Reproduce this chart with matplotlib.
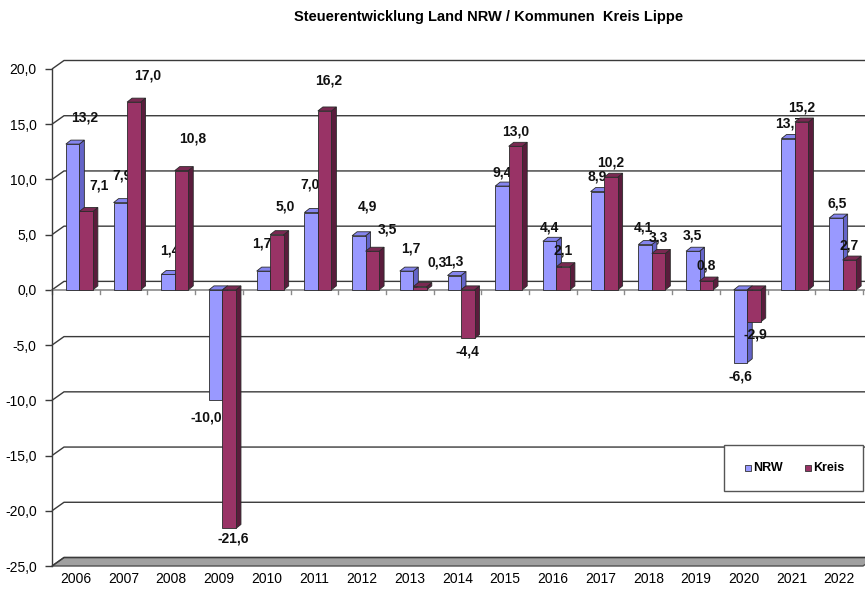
import matplotlib
matplotlib.use("Agg")
import matplotlib.pyplot as plt
from matplotlib.patches import Polygon, Rectangle
import numpy as np

# ---------------- data ----------------
years = ["2006", "2007", "2008", "2009", "2010", "2011", "2012", "2013", "2014",
         "2015", "2016", "2017", "2018", "2019", "2020", "2021", "2022"]
nrw = [13.2, 7.9, 1.4, -10.0, 1.7, 7.0, 4.9, 1.7, 1.3, 9.4, 4.4, 8.9, 4.1, 3.5, -6.6, 13.7, 6.5]
kreis = [7.1, 17.0, 10.8, -21.6, 5.0, 16.2, 3.5, 0.3, -4.4, 13.0, 2.1, 10.2, 3.3, 0.8, -2.9, 15.2, 2.7]
series_names = ["NRW", "Kreis"]
y_ticks = [-25, -20, -15, -10, -5, 0, 5, 10, 15, 20]
title = "Steuerentwicklung Land NRW / Kommunen  Kreis Lippe"

# ---------------- style ----------------
# label offsets in pixels (dx, dy) relative to bar end (top for +, bottom for -)
nrw_lab_off = [(12, 27), (2, 27), (2, 24), (-9, -17), (-2, 28), (-1, 28), (9, 29), (4, 23), (0, 14),
               (0, 14), (0, 14), (0, 15), (-2, 17), (0, 16), (0, -14), (0, 15), (1, 15)]
kreis_lab_off = [(13, 26), (14, 27), (11, 32), (4, -10), (8, 28), (4, 30), (15, 22), (17, 24), (0, -13),
                 (0, 15), (0, 16), (0, 15), (0, 16), (0, 16), (1, -13), (0, 15), (0, 15)]

front_cols = ["#9999FF", "#993366"]
top_cols = ["#8585EE", "#7A2952"]
side_cols = ["#6464C8", "#5A1C3C"]
edge_col = "#2a2a2a"

W, H, DPI = 865, 589, 100
plt.rcParams["font.family"] = ["Liberation Sans", "DejaVu Sans"]

fig = plt.figure(figsize=(W / DPI, H / DPI), dpi=DPI)
ax_left_px, ax_right_px, ax_top_px, ax_bot_px = 52, 863, 69, 566
ax = fig.add_axes([ax_left_px / W, (H - ax_bot_px) / H,
                   (ax_right_px - ax_left_px) / W, (ax_bot_px - ax_top_px) / H])
xmin, xmax = -0.5, len(years) - 0.5
ymin, ymax = -25, 20
ax.set_xlim(xmin, xmax)
ax.set_ylim(ymin, ymax)

ppx = (ax_right_px - ax_left_px) / (xmax - xmin)   # pixels per x unit
ppy = (ax_bot_px - ax_top_px) / (ymax - ymin)      # pixels per y unit

def px_x(p):
    return p / ppx

def px_y(p):
    return p / ppy

# back wall offset and bar depth offset (in data units)
wdx, wdy = px_x(12), px_y(8.5)
bdx, bdy = px_x(5), px_y(4)

line_col = "#3a3a3a"

# floor at minimum
floor = Polygon([(xmin, ymin), (xmin + wdx, ymin + wdy), (xmax + wdx, ymin + wdy), (xmax, ymin)],
                closed=True, facecolor="#a0a0a0", edgecolor="#505050", lw=1.0, zorder=1, clip_on=False)
ax.add_patch(floor)

# gridlines on back wall with diagonals from axis
for v in y_ticks:
    ax.plot([xmin, xmin + wdx, xmax + 1], [v, v + wdy, v + wdy], color=line_col, lw=1.0,
            zorder=1.5, clip_on=False, solid_capstyle="butt")

# front zero line with category ticks
ax.plot([xmin, xmax + 1], [0, 0], color="#8a8a8a", lw=1.2, zorder=1.6, clip_on=False)
for k in range(len(years) + 1):
    xb = xmin + k
    ax.plot([xb, xb], [0, -px_y(4)], color="#8a8a8a", lw=1.0, zorder=1.6, clip_on=False)

# bars
bar_w = px_x(13.5)
bar_starts = [px_x(-10), px_x(-10) + bar_w]
z = 3.0
for i, yr in enumerate(years):
    for s, (vals, offs) in enumerate([(nrw, nrw_lab_off), (kreis, kreis_lab_off)]):
        v = vals[i]
        x0 = i + bar_starts[s]
        x1 = x0 + bar_w
        top = max(v, 0)
        bot = min(v, 0)
        side = Polygon([(x1, bot), (x1 + bdx, bot + bdy), (x1 + bdx, top + bdy), (x1, top)],
                       closed=True, facecolor=side_cols[s], edgecolor=edge_col, lw=0.6, zorder=z)
        ax.add_patch(side)
        topf = Polygon([(x0, top), (x0 + bdx, top + bdy), (x1 + bdx, top + bdy), (x1, top)],
                       closed=True, facecolor=top_cols[s], edgecolor=edge_col, lw=0.6, zorder=z)
        ax.add_patch(topf)
        ax.bar([x0], [v], width=bar_w, align="edge", color=front_cols[s], edgecolor=edge_col,
               lw=0.6, zorder=z + 0.001)
        dxp, dyp = offs[i]
        lab = f"{v:.1f}".replace(".", ",")
        ax.annotate(lab, xy=(x0 + bar_w / 2, v), xytext=(dxp, dyp),
                    textcoords="offset pixels", ha="center", va="center",
                    fontsize=10, fontweight="bold", color="#111111", zorder=z + 0.002,
                    annotation_clip=False)
        z += 0.01

# axes styling
for sp in ["top", "right", "bottom"]:
    ax.spines[sp].set_visible(False)
ax.spines["left"].set_color(line_col)
ax.spines["left"].set_linewidth(1.0)
ax.set_yticks(y_ticks)
ax.set_yticklabels([f"{t:.1f}".replace(".", ",") for t in y_ticks], fontsize=10)
ax.tick_params(axis="y", direction="out", length=5, width=1.0, color=line_col, pad=6)
ax.set_xticks(range(len(years)))
ax.set_xticklabels(years, fontsize=10)
ax.tick_params(axis="x", length=0, pad=4)
ax.set_facecolor("none")

# legend (manual box)
lx0, ly0 = (724 - ax_left_px) / (ax_right_px - ax_left_px), (ax_bot_px - 491) / (ax_bot_px - ax_top_px)
lw_, lh_ = (863 - 724) / (ax_right_px - ax_left_px), 46 / (ax_bot_px - ax_top_px)
ax.add_patch(Rectangle((lx0, ly0), lw_, lh_, transform=ax.transAxes, facecolor="white",
                       edgecolor="#555555", lw=1.0, zorder=10, clip_on=False))
ly = ly0 + lh_ / 2
for s, (name, mx) in enumerate(zip(series_names, [748, 808])):
    xf = (mx - ax_left_px) / (ax_right_px - ax_left_px)
    ax.plot([xf], [ly], marker="s", markersize=5, markerfacecolor=front_cols[s],
            markeredgecolor="#333333", markeredgewidth=0.6, transform=ax.transAxes,
            zorder=11, clip_on=False)
    ax.text(xf + px_x(5) / (xmax - xmin), ly, name, transform=ax.transAxes, ha="left",
            va="center", fontsize=9, fontweight="bold", zorder=11)

fig.text(489 / W, 1 - 17 / H, title, ha="center", va="center", fontsize=10.5, fontweight="bold")

fig.savefig("out.png", dpi=DPI)
